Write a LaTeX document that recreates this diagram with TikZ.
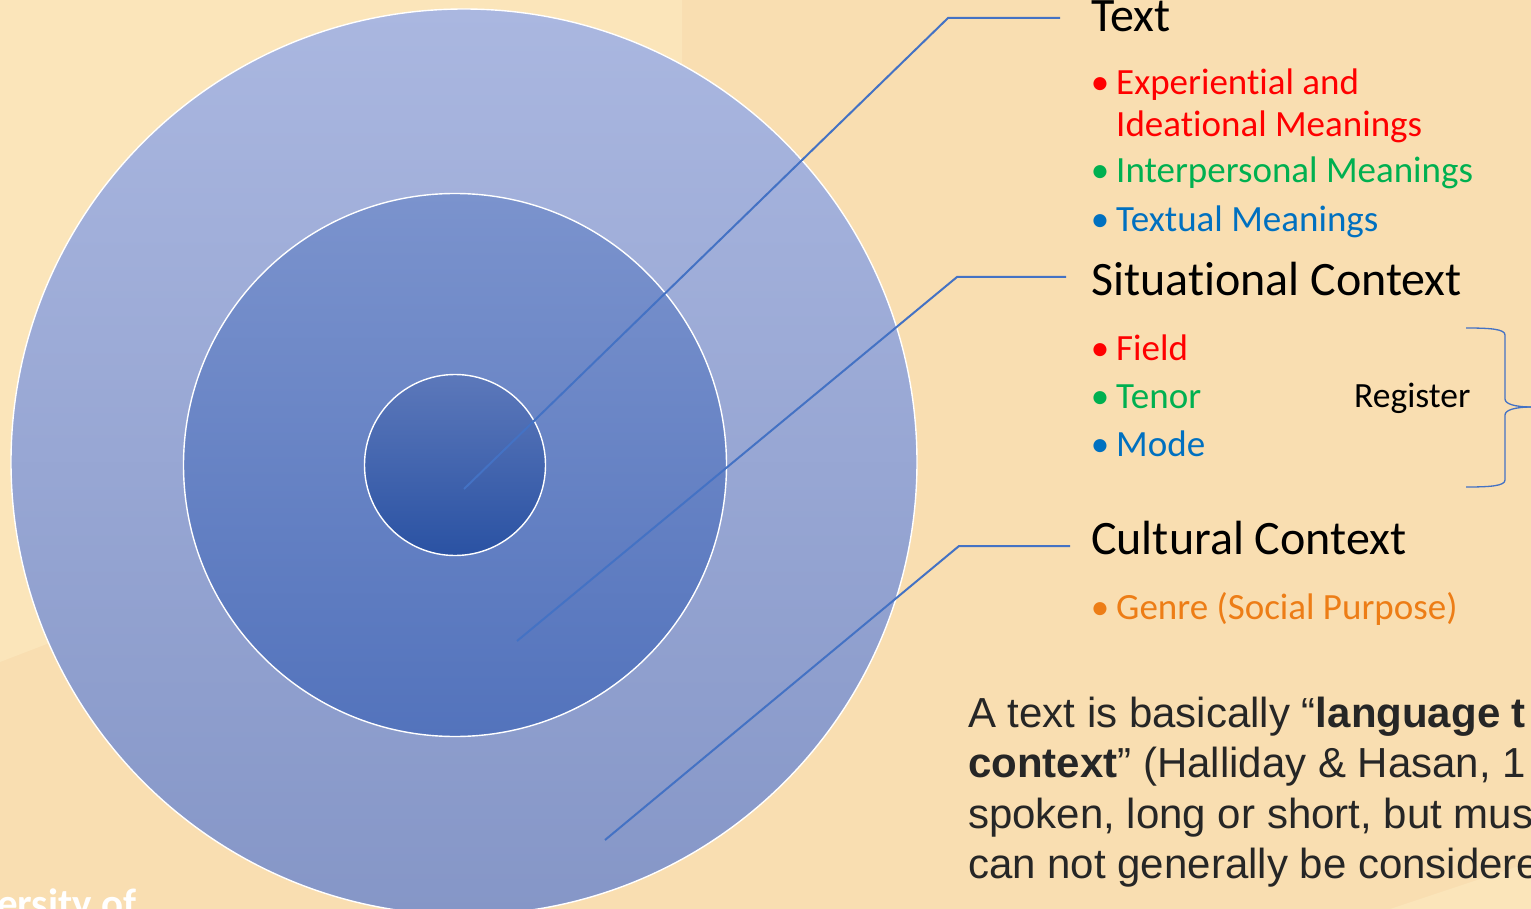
\documentclass[tikz,border=0pt]{standalone}
\usepackage{fontspec}
\setmainfont{Carlito}[Ligatures={NoCommon,NoRare}]
\newfontfamily\arialf{Liberation Sans}
\usetikzlibrary{calc}
\definecolor{bgpeach}{RGB}{249,222,177}
\definecolor{bglight}{RGB}{251,229,186}
\definecolor{outtop}{RGB}{170,183,224}
\definecolor{outbot}{RGB}{133,150,199}
\definecolor{midtop}{RGB}{123,147,205}
\definecolor{midbot}{RGB}{83,115,188}
\definecolor{intop}{RGB}{92,120,186}
\definecolor{inmid}{RGB}{53,99,181}
\definecolor{inbot}{RGB}{42,82,163}
\definecolor{connblue}{RGB}{68,114,196}
\definecolor{tred}{RGB}{255,0,0}
\definecolor{tgreen}{RGB}{0,176,80}
\definecolor{tblue}{RGB}{0,112,192}
\definecolor{torange}{RGB}{237,125,22}
\definecolor{tdark}{RGB}{38,38,38}
\tikzset{
  ring/.style={circle, draw=white, line width=1.4pt, inner sep=0pt},
  conn/.style={draw=connblue, line width=2pt},
  heading/.style={anchor=base west, inner sep=0pt, font=\fontsize{48}{56}\selectfont, text=black},
  item/.style={anchor=base west, inner sep=0pt, font=\fontsize{37}{44}\selectfont},
  bul/.style={anchor=base, inner sep=0pt, font=\fontsize{37}{44}\selectfont},
  para/.style={anchor=base west, inner sep=0pt, font=\arialf\fontsize{42}{50}\selectfont, text=tdark},
  brace/.style={draw=connblue, line width=1.3pt}
}
\begin{document}
\begin{tikzpicture}[x=1pt,y=-1pt]
\useasboundingbox (0,0) rectangle (1531,909);
\clip (0,0) rectangle (1531,909);
% background
\fill[bgpeach] (0,0) rectangle (1531,909);
\fill[bglight] (0,0) -- (682,0) -- (682,400) -- (0,662) -- cycle;
\fill[bglight] (1390,909) -- (1531,862) -- (1531,909) -- cycle;
% circles
\node[ring, minimum size=906pt, top color=outtop, bottom color=outbot] (outer) at (464,462) {};
\node[ring, minimum size=543pt, top color=midtop, bottom color=midbot] (middle) at (455,465) {};
\node[ring, minimum size=181pt, top color=intop, middle color=inmid, bottom color=inbot] (inner) at (455,465) {};
% footer fragment
\node[anchor=base west, inner sep=0pt, text=white, font=\bfseries\fontsize{41}{48}\selectfont] (univ) at (-3,917) {ersity of};
% headings
\node[heading] (hText) at (1091,32) {Text};
\node[heading] (hSit) at (1091,296) {Situational Context};
\node[heading] (hCul) at (1091,554) {Cultural Context};
% text items
\node[bul, text=tred] (b1) at (1100,95) {•};
\node[item, text=tred] (i1a) at (1116,95) {Experiential and};
\node[item, text=tred] (i1b) at (1116,137) {Ideational Meanings};
\node[bul, text=tgreen] (b2) at (1100,183) {•};
\node[item, text=tgreen] (i2) at (1116,183) {Interpersonal Meanings};
\node[bul, text=tblue] (b3) at (1100,232) {•};
\node[item, text=tblue] (i3) at (1116,232) {Textual Meanings};
% situational items
\node[bul, text=tred] (b4) at (1100,360) {•};
\node[item, text=tred] (i4) at (1116,360) {Field};
\node[bul, text=tgreen] (b5) at (1100,408) {•};
\node[item, text=tgreen] (i5) at (1116,408) {Tenor};
\node[bul, text=tblue] (b6) at (1100,456) {•};
\node[item, text=tblue] (i6) at (1116,456) {Mode};
\node[anchor=base west, inner sep=0pt, font=\fontsize{35.5}{42}\selectfont] (reg) at (1354,407) {Register};
% cultural item
\node[bul, text=torange] (b7) at (1100,619) {•};
\node[item, text=torange] (i7) at (1116,619) {Genre (Social Purpose)};
% brace
\coordinate (brTop) at (1466,328);
\coordinate (brTip) at (1532,407);
\coordinate (brBot) at (1466,487);
\draw[brace] (brTop) .. controls (1490,328) and (1505,329) .. (1505,335)
  -- (1505,399) .. controls (1505,404) and (1515,407) .. (brTip);
\draw[brace] (brTip) .. controls (1515,407) and (1505,410) .. (1505,415)
  -- (1505,480) .. controls (1505,486) and (1490,487) .. (brBot);
% connectors
\coordinate (c1s) at (464,489);
\coordinate (c1b) at (948,18);
\coordinate (c1e) at (1060,18);
\coordinate (c2s) at (517,641);
\coordinate (c2b) at (957,277);
\coordinate (c2e) at (1066,277);
\coordinate (c3s) at (605,840);
\coordinate (c3b) at (959,546);
\coordinate (c3e) at (1070,546);
\draw[conn] (c1s) -- (c1b) -- (c1e);
\draw[conn] (c2s) -- (c2b) -- (c2e);
\draw[conn] (c3s) -- (c3b) -- (c3e);
% paragraph
\node[para] (p1) at (968,727) {A text is basically “\textbf{language t}};
\node[para] (p2) at (968,777) {\textbf{context}” (Halliday \& Hasan, 1};
\node[para] (p3) at (968,828) {spoken, long or short, but mus};
\node[para] (p4) at (968,878) {can not generally be considere};
\end{tikzpicture}
\end{document}
